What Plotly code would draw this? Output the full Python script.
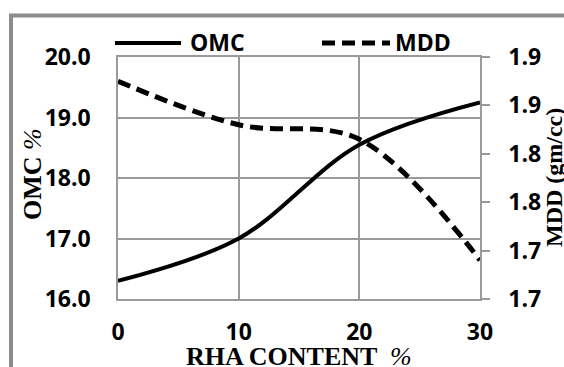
import plotly.graph_objects as go

rha = [0, 10, 20, 30]
omc = [16.3, 17.0, 18.55, 19.25]
mdd = [1.875, 1.83, 1.815, 1.69]

omc_ticks = [16, 17, 18, 19, 20]
omc_labels = ["16.0", "17.0", "18.0", "19.0", "20.0"]
mdd_ticks = [1.65, 1.70, 1.75, 1.80, 1.85, 1.90]
mdd_labels = ["1.7", "1.7", "1.8", "1.8", "1.9", "1.9"]
x_ticks = [0, 10, 20, 30]

W, H = 564, 367
L, R, T, B = 118, 84, 57, 68
pw, ph = W - L - R, H - T - B

def px(x):
    return (x - L) / pw

def py(y):
    return (H - B - y) / ph

tick_font = dict(family="Open Sans", size=23, color="black", weight=700)
title_font = dict(family="Liberation Serif", size=26, color="black", weight=700)
grid = "#9a9a9a"

fig = go.Figure()
fig.add_trace(go.Scatter(x=rha, y=omc, mode="lines", name="OMC",
                         line=dict(color="black", width=4, shape="spline")))
fig.add_trace(go.Scatter(x=rha, y=mdd, mode="lines", name="MDD", yaxis="y2",
                         line=dict(color="black", width=5, shape="spline", dash="13px,7px")))

fig.update_layout(
    width=W, height=H, margin=dict(l=L, r=R, t=T, b=B),
    paper_bgcolor="white", plot_bgcolor="white", showlegend=False,
    xaxis=dict(range=[0, 30], tickvals=x_ticks, showgrid=True, gridcolor=grid, gridwidth=1.5,
               showline=True, linecolor=grid, linewidth=1.5, mirror=True, zeroline=False,
               ticks="", ticklabelstandoff=12, tickfont=tick_font),
    yaxis=dict(range=[16, 20], tickvals=omc_ticks, ticktext=omc_labels, showgrid=True,
               gridcolor=grid, gridwidth=1.5, showline=True, linecolor=grid, linewidth=1.5,
               mirror=True, zeroline=False, ticks="", ticklabelstandoff=21, tickfont=tick_font),
    yaxis2=dict(range=[1.65, 1.90], tickvals=mdd_ticks, ticktext=mdd_labels, overlaying="y",
                side="right", showgrid=False, showline=True, linecolor=grid, linewidth=1.5,
                zeroline=False, ticks="outside", ticklen=8, tickwidth=1.5, tickcolor=grid,
                ticklabelstandoff=14, tickfont=tick_font),
)

# outer frame
fig.add_shape(type="rect", xref="paper", yref="paper",
              x0=px(11), x1=px(600), y0=py(400), y1=py(15.5),
              line=dict(color="#8c8c8c", width=4), layer="below")

# legend
fig.add_shape(type="line", xref="paper", yref="paper", x0=px(115), x1=px(181), y0=py(43), y1=py(43),
              line=dict(color="black", width=4))
fig.add_shape(type="line", xref="paper", yref="paper", x0=px(322), x1=px(390), y0=py(43), y1=py(43),
              line=dict(color="black", width=5, dash="13px,7px"))
fig.add_annotation(xref="paper", yref="paper", x=px(188), y=py(42), text="OMC", showarrow=False,
                   xanchor="left", yanchor="middle", font=tick_font)
fig.add_annotation(xref="paper", yref="paper", x=px(393), y=py(42), text="MDD", showarrow=False,
                   xanchor="left", yanchor="middle", font=tick_font)

# axis titles
fig.add_annotation(xref="paper", yref="paper", x=0.5, y=py(356),
                   text="RHA CONTENT  <span style='font-weight:normal'><i>%</i></span>",
                   showarrow=False, xanchor="center", yanchor="middle", font=title_font)
fig.add_annotation(xref="paper", yref="paper", x=px(32), y=py(174),
                   text="OMC <span style='font-weight:normal'><i>%</i></span>", textangle=-90,
                   showarrow=False, xanchor="center", yanchor="middle", font=title_font)
fig.add_annotation(xref="paper", yref="paper", x=px(554), y=py(178),
                   text="MDD (gm/cc)", textangle=-90,
                   showarrow=False, xanchor="center", yanchor="middle",
                   font=dict(family="Liberation Serif", size=24, color="black", weight=700))

fig.write_html("out.html")
